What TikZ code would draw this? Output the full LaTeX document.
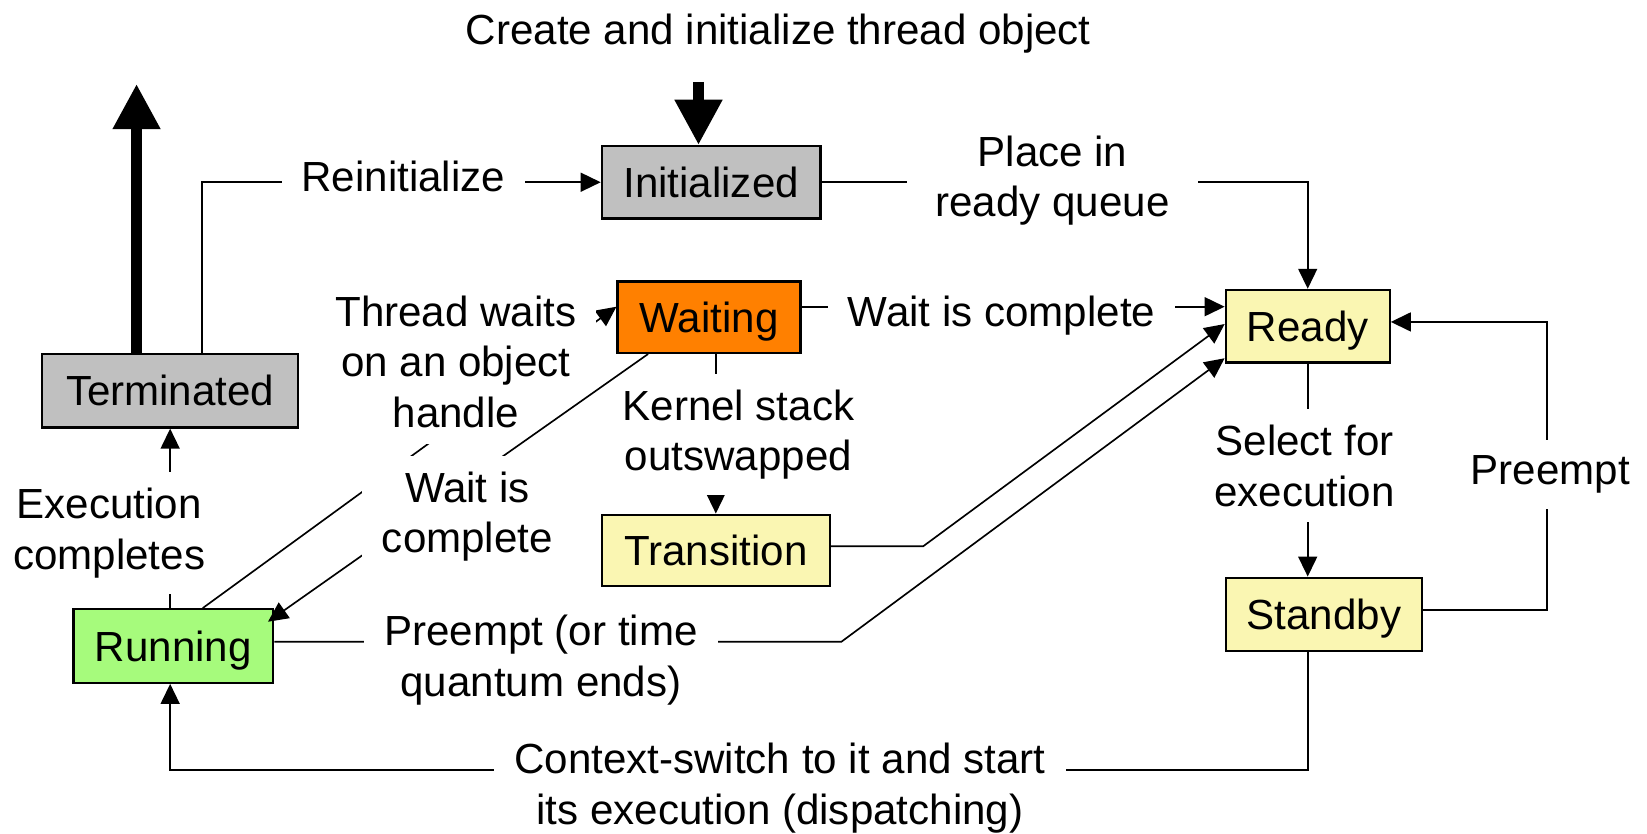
\documentclass[tikz,border=0pt]{standalone}
\usepackage{fontspec}
\setmainfont{Liberation Sans}
\usepackage{xcolor}
\usepackage{tikz}
\usetikzlibrary{calc,arrows.meta}
\definecolor{stgrey}{HTML}{C0C0C0}
\definecolor{waitorange}{HTML}{FF8000}
\definecolor{readyyel}{HTML}{FAF6B2}
\definecolor{rungreen}{HTML}{A6FB7C}
\tikzset{
  state/.style={draw=black, line width=0.6pt, text height=0.29cm, text depth=0pt, inner sep=0pt, minimum height=0.69cm},
  conn/.style={draw=black, line width=0.45pt, -{Triangle[length=0.19cm,width=0.18cm]}},
  big/.style={draw=black, line width=1mm, -{Triangle[length=0.43cm,width=0.43cm]}},
  lab/.style={fill=white, align=center, inner xsep=0.19cm, inner ysep=0.15cm},
}

\begin{document}
\begin{tikzpicture}[x=0.01cm, y=-0.01cm, font=\fontsize{11.4}{13.66}\selectfont]
  \useasboundingbox (0,0) rectangle (1568,794);
  \node[state, fill=stgrey, minimum width=2.08cm] (init) at (677,173.5) {Initialized};
  \node[state, fill=stgrey, minimum width=2.44cm, minimum height=0.70cm] (term) at (162,372) {Terminated};
  \node[state, fill=waitorange, minimum width=1.74cm, minimum height=0.68cm] (wait) at (675,302) {Waiting};
  \node[state, fill=readyyel, minimum width=1.56cm] (ready) at (1245,310.5) {Ready};
  \node[state, fill=readyyel, minimum width=2.17cm, minimum height=0.68cm] (trans) at (681.5,524) {Transition};
  \node[state, fill=readyyel, minimum width=1.87cm, minimum height=0.70cm] (standby) at (1260.5,585) {Standby};
  \node[state, fill=rungreen, minimum width=1.90cm, minimum height=0.70cm] (run) at (165,615) {Running};
  \node (create) at (741,32) {Create and initialize thread object};

  \coordinate (newthr) at (665,78);
  \coordinate (gone) at (130,80);
  \coordinate (qbend) at (879,520);
  \coordinate (pbend) at (801,611);

  \draw[big] (newthr) -- (newthr |- init.north);
  \draw[big] (gone |- term.north) -- (gone);
  \draw[conn] ([xshift=0.3cm]term.north) |- (init.west);
  \draw[conn] (init.east) -| (ready.north);
  \draw[conn] ([yshift=0.1cm]wait.east) -- ([yshift=0.1cm]wait.east -| ready.west);
  \draw[conn] (wait.south -| trans.north) -- (trans.north);
  \draw[conn] ([yshift=0.04cm]trans.east) -- (qbend) -- ([yshift=0.02cm]ready.west);
  \draw[conn] ([yshift=0.04cm]run.east) -- (pbend) -- ([yshift=0.05cm]ready.south west);
  \draw[conn] (ready.south) -- (ready.south |- standby.north);
  \draw[conn] ([yshift=0.04cm]standby.east) -- ++(118,0) |- ([yshift=0.04cm]ready.east);
  \draw[conn] (standby.south -| ready.south) -- ++(0,112) -| (run.south -| term.south);
  \draw[conn] (run.north -| term.south) -- (term.south);

  \node[lab] (execdone) at (104,507.5) {Execution\\completes};
  \draw[conn] ([xshift=0.28cm]run.north) -- ([yshift=0.1cm]wait.west);
  \node[lab] (thrwait) at (434,344.5) {Thread waits\\on an object\\handle};
  \node[lab] (kernel) at (703,414) {Kernel stack\\outswapped};
  \draw[conn] ([xshift=-0.58cm]wait.south) -- ([xshift=-0.06cm,yshift=-0.13cm]run.north east);

  \node[lab] (reinit) at (384,168) {Reinitialize};
  \node[lab, inner xsep=0.27cm] (place) at (1002,172) {Place in\\ready queue};
  \node[lab] (wcrun) at (445,492) {Wait is\\complete};
  \node[lab] (wcready) at (953.5,300) {Wait is complete};
  \node[lab] (select) at (1242,443.5) {Select for\\execution};
  \node[lab] (preright) at (1476,452) {Preempt};
  \node[lab] (prerun) at (515,628.5) {Preempt (or time\\quantum ends)};
  \node[lab] (ctx) at (742.5,750.5) {Context-switch to it and start\\its execution (dispatching)};
\end{tikzpicture}
\end{document}
